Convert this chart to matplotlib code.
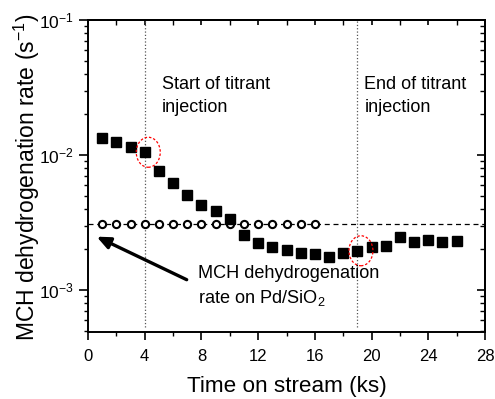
import matplotlib
matplotlib.use("Agg")
import matplotlib.pyplot as plt
import numpy as np
from matplotlib.patches import Ellipse
from matplotlib.ticker import LogLocator, MultipleLocator, FixedLocator, NullFormatter

plt.rcParams['font.family'] = ['Liberation Sans', 'DejaVu Sans']
plt.rcParams['mathtext.default'] = 'regular'

# Data
time_filled = [1, 2, 3, 4, 5, 6, 7, 8, 9, 10, 11, 12, 13, 14, 15, 16, 17, 18, 19, 20, 21, 22, 23, 24, 25, 26]
rate_filled = [0.01343, 0.01256, 0.0114, 0.01047, 0.00766, 0.00624, 0.00507, 0.00427, 0.00387, 0.00334,
               0.00255, 0.00224, 0.00209, 0.00198, 0.00187, 0.00185, 0.00175, 0.00189, 0.00195, 0.00209,
               0.00213, 0.00245, 0.00228, 0.00235, 0.00228, 0.00231]
time_open = [1, 2, 3, 4, 5, 6, 7, 8, 9, 10, 11, 12, 13, 14, 15, 16]
rate_open = [0.00307] * 16
pd_rate = 0.00307
start_inj = 4
end_inj = 19
xticks = [0, 4, 8, 12, 16, 20, 24, 28]

fig = plt.figure(figsize=(4.95, 3.99), dpi=100)
ax = fig.add_axes([88/495, 1-331.7/399, (485-88)/495, (331.7-20)/399])

ax.set_yscale('log')
ax.set_xlim(0, 28)
ax.set_ylim(4.9e-4, 0.1)

ax.plot([0, 28], [pd_rate, pd_rate], ls=(0, (4, 3)), color='black', lw=0.9, zorder=2)
ax.plot([start_inj, start_inj], [5.3e-4, 0.1], ls=':', color='#555555', lw=0.9, zorder=1)
ax.plot([end_inj, end_inj], [5.3e-4, 0.1], ls=':', color='#555555', lw=0.9, zorder=1)

ax.plot(time_open, rate_open, 'o', ms=5.2, mfc='white', mec='black', mew=1.5, ls='none', zorder=3)
ax.plot(time_filled, rate_filled, 's', ms=6.8, mfc='black', mec='black', ls='none', zorder=4)

# red dashed ellipses around highlighted points
for xi, yi in [(start_inj, rate_filled[3]), (end_inj, rate_filled[18])]:
    trans = ax.transData.transform((xi + 0.25, yi))
    e = Ellipse(trans, 24, 30, transform=None, fill=False, ec='red', ls=(0, (2, 1.5)), lw=0.9, zorder=5)
    fig.add_artist(e)

ax.text(5.2, 0.0272, 'Start of titrant\ninjection', fontsize=13, va='center', ha='left', linespacing=1.45)
ax.text(19.5, 0.0272, 'End of titrant\ninjection', fontsize=13, va='center', ha='left', linespacing=1.45)

ax.text(7.75, 0.00106, 'MCH dehydrogenation\nrate on Pd/SiO$_2$', fontsize=13.1, ha='left', va='center',
        linespacing=1.4)
ax.annotate('', xy=(0.61, 0.00248), xytext=(6.96, 0.00119),
            arrowprops=dict(arrowstyle='-|>,head_length=0.8,head_width=0.35', lw=2.4, color='black',
                            shrinkA=0, shrinkB=0))

ax.xaxis.set_major_locator(FixedLocator(xticks))
ax.xaxis.set_minor_locator(MultipleLocator(2))
ax.set_yticks([1e-3, 1e-2, 1e-1])
ax.set_yticklabels(['10$^{-3}$', '10$^{-2}$', '10$^{-1}$'])
ax.yaxis.set_minor_locator(LogLocator(base=10, subs=np.arange(2, 10), numticks=20))
ax.yaxis.set_minor_formatter(NullFormatter())

ax.tick_params(axis='x', which='major', direction='out', length=5.8, width=1.2, labelsize=12, pad=6.5,
               top=False, right=False)
ax.tick_params(axis='y', which='major', direction='out', length=6.5, width=1.2, labelsize=12.5, pad=3.6,
               top=False, right=False)
ax.tick_params(axis='both', which='minor', direction='out', length=3.2, width=1.0, top=False, right=False)

# mirrored inward ticks on top/right
axt = ax.secondary_xaxis('top')
axt.xaxis.set_major_locator(FixedLocator(xticks))
axt.xaxis.set_minor_locator(MultipleLocator(2))
axt.tick_params(axis='x', which='major', direction='in', length=3.4, width=1.2, labeltop=False)
axt.tick_params(axis='x', which='minor', direction='in', length=3.4, width=1.0)
axt.set_xticklabels([])
axr = ax.secondary_yaxis('right')
axr.yaxis.set_major_locator(FixedLocator([1e-3, 1e-2, 1e-1]))
axr.yaxis.set_minor_locator(LogLocator(base=10, subs=np.arange(2, 10), numticks=20))
axr.tick_params(axis='y', which='major', direction='in', length=6, width=1.2, labelright=False)
axr.tick_params(axis='y', which='minor', direction='in', length=3.5, width=1.0)
axr.yaxis.set_minor_formatter(NullFormatter())
axr.set_yticklabels([])

for s in ax.spines.values():
    s.set_linewidth(1.4)
for a in (axt, axr):
    for s in a.spines.values():
        s.set_linewidth(1.4)

ax.set_xlabel('Time on stream (ks)', fontsize=16.2, va='center')
ax.set_ylabel('MCH dehydrogenation rate (s$^{-1}$)', fontsize=16.5, va='center')
ax.xaxis.set_label_coords(0.5, -0.176)
ax.yaxis.set_label_coords(-0.155, 0.495)

fig.savefig('out.png', dpi=100)
